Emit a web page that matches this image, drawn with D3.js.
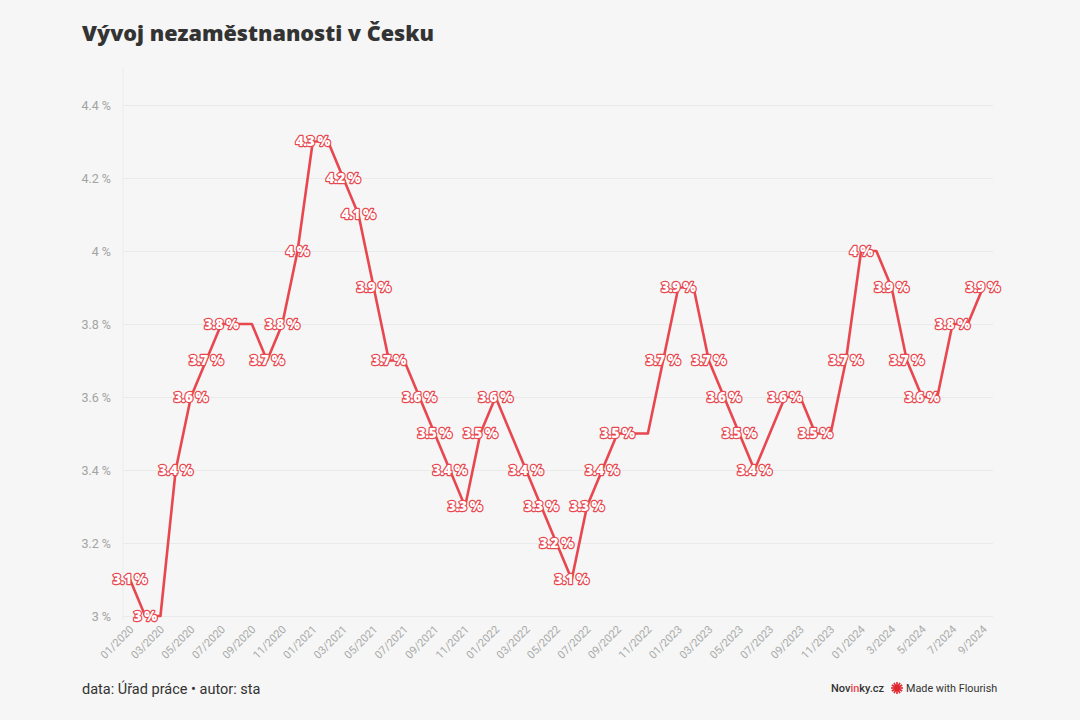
<!DOCTYPE html>
<html>
<head>
<meta charset="utf-8">
<script src="https://cdn.jsdelivr.net/npm/d3@7"></script>
<style>
  body { margin: 0; background: #f5f6f5; }
  svg { display: block; }
</style>
</head>
<body>
<div id="chart"></div>
<script>
// months shown on the x axis (raw labels, as in the source data)
var months = [
  "01/2020","02/2020","03/2020","04/2020","05/2020","06/2020","07/2020","08/2020","09/2020","10/2020","11/2020","12/2020",
  "01/2021","02/2021","03/2021","04/2021","05/2021","06/2021","07/2021","08/2021","09/2021","10/2021","11/2021","12/2021",
  "01/2022","02/2022","03/2022","04/2022","05/2022","06/2022","07/2022","08/2022","09/2022","10/2022","11/2022","12/2022",
  "01/2023","02/2023","03/2023","04/2023","05/2023","06/2023","07/2023","08/2023","09/2023","10/2023","11/2023","12/2023",
  "01/2024","2/2024","3/2024","4/2024","5/2024","6/2024","7/2024","8/2024","9/2024"
];

// unemployment rate, %
var rate = [
  3.1, 3.0, 3.0, 3.4, 3.6, 3.7, 3.8, 3.8, 3.8, 3.7, 3.8, 4.0,
  4.3, 4.3, 4.2, 4.1, 3.9, 3.7, 3.7, 3.6, 3.5, 3.4, 3.3, 3.5,
  3.6, 3.5, 3.4, 3.3, 3.2, 3.1, 3.3, 3.4, 3.5, 3.5, 3.5, 3.7,
  3.9, 3.9, 3.7, 3.6, 3.5, 3.4, 3.5, 3.6, 3.6, 3.5, 3.5, 3.7,
  4.0, 4.0, 3.9, 3.7, 3.6, 3.6, 3.8, 3.8, 3.9
];

var yTicks = [3, 3.2, 3.4, 3.6, 3.8, 4, 4.2, 4.4];

var width = 1080, height = 720;
var red = "#e8474f";
var fmt = function (v) { return (Math.round(v * 10) / 10).toString() + " %"; };

var svg = d3.select("#chart")
    .append("svg")
    .attr("width", width)
    .attr("height", height);

svg.append("rect").attr("width", width).attr("height", height).attr("fill", "#f5f6f5");

// title
svg.append("text")
    .attr("x", 82).attr("y", 41)
    .attr("font-family", "'Open Sans', sans-serif")
    .attr("font-weight", 800)
    .attr("font-size", 21.6)
    .attr("fill", "#333")
    .text("Vývoj nezaměstnanosti v Česku");

// scales
var x = d3.scalePoint().domain(months).range([130, 983]);
var y = d3.scaleLinear().domain([3, 4.4]).range([616, 105]);

// faint vertical axis line
svg.append("line")
    .attr("x1", 123).attr("x2", 123)
    .attr("y1", 67).attr("y2", 620)
    .attr("stroke", "#ebecec").attr("stroke-width", 1);

// y axis + grid
var yAxis = svg.append("g")
    .attr("transform", "translate(123,0)")
    .call(d3.axisLeft(y).tickValues(yTicks).tickSize(-870).tickFormat(fmt));
yAxis.select(".domain").remove();
yAxis.selectAll(".tick line").attr("stroke", "#e9eaea").attr("stroke-width", 1);
yAxis.selectAll(".tick text")
    .attr("x", -12)
    .attr("font-family", "Roboto, sans-serif")
    .attr("font-size", 12.5)
    .attr("fill", "#a3a3a3");

// x axis (every second month labelled)
var xAxis = svg.append("g")
    .attr("transform", "translate(0,616)")
    .call(d3.axisBottom(x).tickValues(months.filter(function (d, i) { return i % 2 === 0; })).tickSize(0));
xAxis.select(".domain").remove();
xAxis.selectAll(".tick text")
    .attr("font-family", "Roboto, sans-serif")
    .attr("font-size", 11)
    .attr("fill", "#aaaaaa")
    .attr("text-anchor", "end")
    .attr("dy", null)
    .attr("transform", "translate(4,14) rotate(-45)")
    .attr("y", 0).attr("x", 0);

// line
var line = d3.line()
    .x(function (d, i) { return x(months[i]); })
    .y(function (d) { return y(d); });

svg.append("path")
    .datum(rate)
    .attr("fill", "none")
    .attr("stroke", red)
    .attr("stroke-width", 2.6)
    .attr("stroke-linejoin", "round")
    .attr("d", line);

// value labels, hide ones that would overlap an earlier label
var placed = [];
var labels = svg.append("g");
rate.forEach(function (v, i) {
    var t = labels.append("text")
        .attr("x", x(months[i]))
        .attr("y", y(v))
        .attr("dy", "0.36em")
        .attr("text-anchor", "middle")
        .attr("font-family", "'Open Sans', sans-serif")
        .attr("font-weight", 800)
        .attr("font-size", 13.5)
        .attr("letter-spacing", -0.4)
        .attr("fill", "#fff")
        .attr("stroke", red)
        .attr("stroke-width", 2.4)
        .attr("stroke-linejoin", "round")
        .attr("paint-order", "stroke")
        .text(fmt(v));
    var w = t.node().getComputedTextLength();
    var box = { x0: x(months[i]) - w / 2, x1: x(months[i]) + w / 2, y0: y(v) - 7, y1: y(v) + 7 };
    var hit = placed.some(function (b) {
        return box.x0 < b.x1 && box.x1 > b.x0 && box.y0 < b.y1 && box.y1 > b.y0;
    });
    if (hit) t.remove(); else placed.push(box);
});

// footer
svg.append("text")
    .attr("x", 82).attr("y", 694)
    .attr("font-family", "Roboto, sans-serif")
    .attr("font-size", 14.5)
    .attr("fill", "#333")
    .text("data: Úřad práce • autor: sta");

var brand = svg.append("text")
    .attr("x", 831).attr("y", 692)
    .attr("font-family", "Roboto, sans-serif")
    .attr("font-size", 11)
    .attr("font-weight", 500)
    .attr("fill", "#333");
brand.append("tspan").text("Nov");
brand.append("tspan").attr("fill", red).text("in");
brand.append("tspan").text("ky.cz");

// flourish mark
var star = svg.append("g").attr("transform", "translate(897,688)");
d3.range(12).forEach(function (k) {
    var a = k * Math.PI / 6;
    star.append("line")
        .attr("x1", 0).attr("y1", 0)
        .attr("x2", Math.cos(a) * 6).attr("y2", Math.sin(a) * 6)
        .attr("stroke", "#e0262f").attr("stroke-width", 1.6);
});
star.append("circle").attr("r", 3.2).attr("fill", "#e0262f");

svg.append("text")
    .attr("x", 906).attr("y", 692)
    .attr("font-family", "Roboto, sans-serif")
    .attr("font-size", 10.8)
    .attr("fill", "#333")
    .text("Made with Flourish");
</script>
</body>
</html>
